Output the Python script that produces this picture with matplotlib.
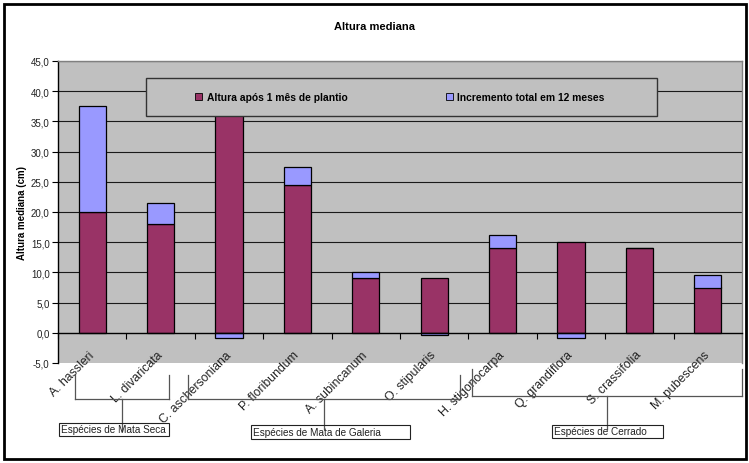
import matplotlib.pyplot as plt
from matplotlib.lines import Line2D
from matplotlib.patches import Rectangle, Patch
import numpy as np

plt.rcParams["font.family"] = ["Liberation Sans", "DejaVu Sans"]

especies = ["A. hassleri", "L. divaricata", "C. aschersoniana", "P. floribundum",
            "A. subincanum", "O. stipularis", "H. stigonocarpa", "Q. grandiflora",
            "S. crassifolia", "M. pubescens"]
altura_1mes = [20.0, 18.0, 36.0, 24.5, 9.0, 9.0, 14.0, 15.0, 14.0, 7.5]
incremento = [17.5, 3.5, -0.9, 3.0, 1.0, -0.4, 2.2, -0.9, 0.0, 2.0]

# species groups: (label, first index, last index)
grupos = [("Espécies de Mata Seca", 0, 1),
          ("Espécies de Mata de Galeria", 2, 5),
          ("Espécies de Cerrado", 6, 9)]

COR_BASE = "#993366"
COR_INC = "#9999FF"
FUNDO = "#C0C0C0"

W, H = 749, 464
fig = plt.figure(figsize=(W / 100, H / 100), dpi=100)
ax = fig.add_axes([58 / W, 1 - 364 / H, (742 - 58) / W, (364 - 62) / H])
ax.set_facecolor(FUNDO)

x = np.arange(len(especies))
base = np.array(altura_1mes)
inc = np.array(incremento)
inc_bottom = np.where(inc >= 0, base, 0)

ax.bar(x, base, width=0.4, color=COR_BASE, edgecolor="black", linewidth=0.9, zorder=3)
ax.bar(x, inc, width=0.4, bottom=inc_bottom, color=COR_INC, edgecolor="black",
       linewidth=0.9, zorder=3)

ax.set_xlim(-0.5, len(especies) - 0.5)
ax.set_ylim(-5, 45)
ax.set_yticks(np.arange(-5, 46, 5))
ax.set_yticklabels([f"{v:.1f}".replace(".", ",") for v in np.arange(-5, 46, 5)],
                   fontsize=7, color="#222222")
for v in np.arange(5, 46, 5):
    ax.axhline(v, color="#1a1a1a", lw=0.8, zorder=1)

# x axis sits at zero, ticks between categories
ax.spines["bottom"].set_position(("data", 0))
ax.spines["bottom"].set_linewidth(1.0)
ax.spines["bottom"].set_zorder(4)
ax.set_xticks(np.arange(-0.5, len(especies), 1.0))
ax.set_xticklabels([])
ax.tick_params(axis="x", direction="out", length=4, width=0.8)
ax.tick_params(axis="y", direction="out", length=4, width=0.8, pad=2)
ax.spines["left"].set_linewidth(1.0)
for s in ("top", "right"):
    ax.spines[s].set_color("#808080")
    ax.spines[s].set_linewidth(1.0)

for i, nome in enumerate(especies):
    ax.text(i - 0.06, -2.6, nome, rotation=45, rotation_mode="anchor",
            ha="right", va="top", fontsize=8.8, color="#222222", zorder=5,
            clip_on=False)

ax.set_ylabel("Altura mediana (cm)", fontsize=7, fontweight="bold", labelpad=3)

fig.text(375 / W, 1 - 27 / H, "Altura mediana", ha="center", va="center",
         fontsize=8, fontweight="bold")

# legend box
fig.add_artist(Rectangle((146 / W, 1 - 117 / H), (657 - 146) / W, (117 - 79) / H,
                         transform=fig.transFigure, facecolor=FUNDO,
                         edgecolor="#333333", lw=1.0, zorder=5))
handles = [Patch(facecolor=COR_BASE, edgecolor="black", lw=0.6),
           Patch(facecolor=COR_INC, edgecolor="black", lw=0.6)]
leg = fig.legend(handles, ["Altura após 1 mês de plantio", "Incremento total em 12 meses"],
                 loc="center", bbox_to_anchor=(400 / W, 1 - 98 / H), ncol=2,
                 frameon=False, handlelength=0.7, handleheight=0.7,
                 handletextpad=0.4, columnspacing=9.6,
                 prop={"weight": "bold", "size": 7.4})
leg.set_zorder(6)

# group brackets under the category labels
linha = dict(color="#555555", lw=0.9, transform=fig.transFigure)


def px(xp, yp):
    return xp / W, 1 - yp / H


def colchete(x0, x1, ytop, ybar, xs, ystem):
    for xs_, ys_ in [((x0, x0), (ytop, ybar)), ((x0, x1), (ybar, ybar)),
                     ((x1, x1), (ybar, ytop)), ((xs, xs), (ybar, ystem))]:
        a, b = px(xs_[0], ys_[0])
        c, d = px(xs_[1], ys_[1])
        fig.add_artist(Line2D([a, c], [b, d], **linha))


colchete(75, 169, 376, 400, 122, 432)
colchete(188, 460, 376, 400, 324, 430)
colchete(472, 742, 370, 397, 607, 430)

caixas = [(59, 169, 424, 437), (251, 410, 426, 440), (552, 663, 426, 439)]
for (nome, _, _), (x0, x1, y0, y1) in zip(grupos, caixas):
    fig.add_artist(Rectangle(px(x0, y1), (x1 - x0) / W, (y1 - y0) / H,
                             transform=fig.transFigure, facecolor="none",
                             edgecolor="#222222", lw=0.8, zorder=3))
    fig.text((x0 + 2) / W, 1 - (y0 + y1) / 2 / H, nome, ha="left", va="center",
             fontsize=7.2, color="#222222")

# outer chart frame
fig.add_artist(Rectangle((4 / W, 1 - 460 / H), 742 / W, 455 / H,
                         transform=fig.transFigure, facecolor="none",
                         edgecolor="black", lw=2.0))

fig.savefig("out.png", dpi=100)
